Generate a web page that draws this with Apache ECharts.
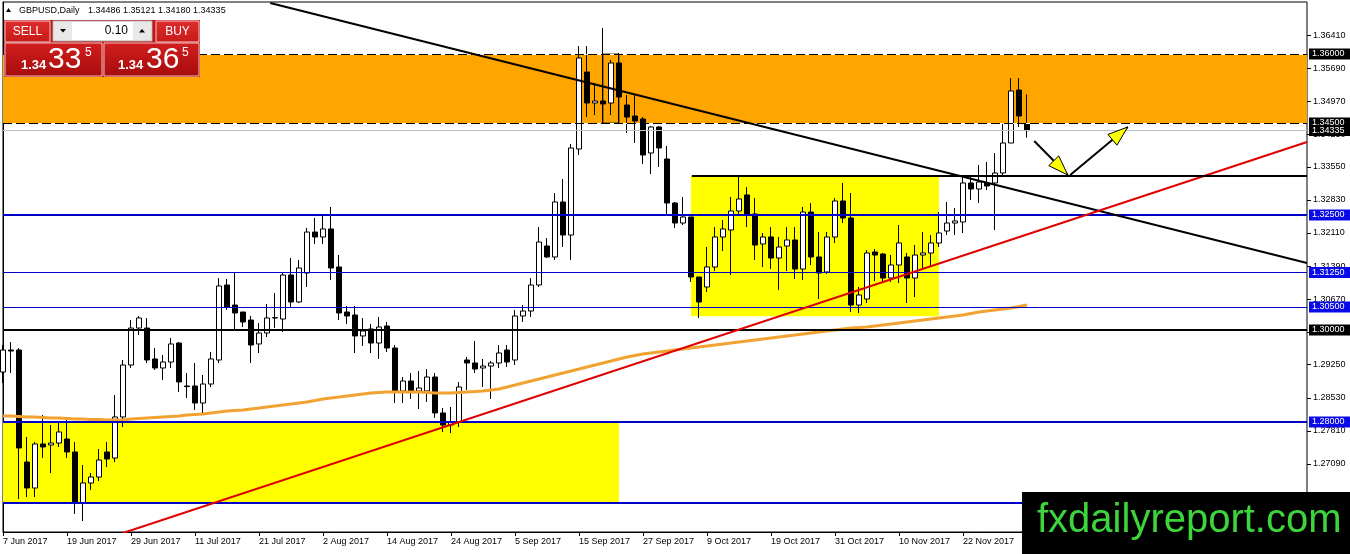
<!DOCTYPE html>
<html><head><meta charset="utf-8">
<script src="https://cdn.jsdelivr.net/npm/echarts@6/dist/echarts.min.js"></script>
<style>html,body{margin:0;padding:0;background:#fff}#c{width:1350px;height:554px}</style>
</head><body><div id="c"></div>
<script>
// ---------- data ----------
const symbolTitle = 'GBPUSD,Daily';
const titleOHLC = ['1.34486', '1.35121', '1.34180', '1.34335'];
const firstDate = [2017, 5, 7];        // 7 Jun 2017
const slotCount = 164;                 // visible bar slots incl. empty right shift
const monthNames = ['Jan','Feb','Mar','Apr','May','Jun','Jul','Aug','Sep','Oct','Nov','Dec'];
// [open, close, low, high]
const candles = [
[1.29087,1.29565,1.28848,1.29674],[1.29565,1.29543,1.29065,1.29739],[1.29565,1.27435,1.26326,1.29609],[1.27130,1.26565,1.26370,1.27674],
[1.26565,1.27522,1.26370,1.27565],[1.27522,1.27457,1.27217,1.28152],[1.27500,1.27543,1.26891,1.27935],[1.27543,1.27783,1.27457,1.28000],
[1.27630,1.27348,1.27217,1.28109],[1.27348,1.26239,1.26000,1.27565],[1.26239,1.26674,1.25848,1.27065],[1.26674,1.26804,1.26522,1.26891],
[1.26804,1.27174,1.26717,1.27413],[1.27348,1.27196,1.27022,1.27565],[1.27217,1.28109,1.27130,1.28587],[1.28109,1.29239,1.27891,1.29348],
[1.29239,1.30043,1.29174,1.30217],[1.30043,1.30261,1.29891,1.30304],[1.30043,1.29348,1.29283,1.30261],[1.29370,1.29174,1.29130,1.29609],
[1.29174,1.29304,1.28913,1.29457],[1.29304,1.29696,1.29174,1.29826],[1.29717,1.28870,1.28652,1.29739],[1.28783,1.28770,1.28522,1.29065],
[1.28783,1.28413,1.28261,1.29283],[1.28413,1.28826,1.28196,1.29022],[1.28826,1.29370,1.28761,1.29522],[1.29348,1.30957,1.29283,1.31130],
[1.30978,1.30500,1.30435,1.31109],[1.30543,1.30370,1.30022,1.31239],[1.30391,1.30174,1.30065,1.30391],[1.30217,1.29674,1.29283,1.30304],
[1.29696,1.29935,1.29500,1.30152],[1.29935,1.30261,1.29848,1.30565],[1.30261,1.30270,1.30043,1.30804],[1.30239,1.31196,1.29957,1.31239],
[1.31196,1.30609,1.30500,1.31565],[1.30609,1.31348,1.30587,1.31522],[1.31239,1.32130,1.30935,1.32217],[1.32130,1.32022,1.31870,1.32435],
[1.32022,1.32196,1.31870,1.32500],[1.32196,1.31348,1.31087,1.32674],[1.31370,1.30370,1.30217,1.31630],[1.30391,1.30304,1.30130,1.30522],
[1.30326,1.29870,1.29500,1.30522],[1.29870,1.29978,1.29652,1.30261],[1.30022,1.29717,1.29500,1.30130],[1.29717,1.30065,1.29370,1.30283],
[1.30087,1.29609,1.29522,1.30174],[1.29609,1.28674,1.28413,1.29674],[1.28674,1.28891,1.28413,1.28978],[1.28891,1.28674,1.28500,1.29065],
[1.28674,1.28739,1.28283,1.29109],[1.28674,1.28978,1.28435,1.29152],[1.28978,1.28196,1.28087,1.29065],[1.28196,1.27935,1.27783,1.28304],
[1.27935,1.28000,1.27761,1.28326],[1.28000,1.28761,1.27891,1.28870],[1.29348,1.29283,1.28696,1.29413],[1.29283,1.29152,1.29065,1.29761],
[1.29174,1.29217,1.28761,1.29370],[1.29217,1.29283,1.28500,1.29326],[1.29283,1.29500,1.29174,1.29674],[1.29565,1.29304,1.29196,1.29674],
[1.29348,1.30304,1.29239,1.30435],[1.30304,1.30413,1.30174,1.30543],[1.30413,1.30978,1.30283,1.31130],[1.30978,1.31913,1.30935,1.32239],
[1.31826,1.31587,1.31565,1.32000],[1.31587,1.32783,1.31522,1.32978],[1.32783,1.32065,1.31804,1.33283],[1.32065,1.33957,1.31522,1.34043],
[1.33935,1.35913,1.33804,1.36174],[1.35609,1.34935,1.34630,1.36174],[1.34935,1.34978,1.34674,1.35370],[1.34978,1.34913,1.34500,1.36565],
[1.34935,1.35804,1.34674,1.35870],[1.35804,1.35065,1.34500,1.36022],[1.34891,1.34630,1.34283,1.35109],[1.34652,1.34543,1.34065,1.35109],
[1.34587,1.33804,1.33609,1.34630],[1.33848,1.34413,1.33391,1.34435],[1.34413,1.33957,1.33543,1.34435],[1.33717,1.32761,1.32522,1.34000],
[1.32761,1.32326,1.32217,1.32783],[1.32326,1.32457,1.32283,1.32891],[1.32457,1.31152,1.31043,1.32457],[1.31152,1.30609,1.30261,1.31152],
[1.30935,1.31370,1.30826,1.31804],[1.31370,1.32022,1.31283,1.32239],[1.32022,1.32196,1.31717,1.32391],[1.32174,1.32587,1.31196,1.32891],
[1.32587,1.32848,1.32500,1.33370],[1.32935,1.32522,1.32239,1.33109],[1.32522,1.31848,1.31522,1.32870],[1.31870,1.32022,1.31370,1.32109],
[1.32022,1.31565,1.31326,1.32239],[1.31565,1.31804,1.30870,1.32022],[1.31826,1.31957,1.31283,1.32239],[1.31957,1.31326,1.31109,1.32239],
[1.31326,1.32565,1.31087,1.32674],[1.32565,1.31587,1.31413,1.32761],[1.31587,1.31239,1.30674,1.32130],[1.31261,1.32022,1.31217,1.32130],
[1.32022,1.32804,1.31891,1.32870],[1.32804,1.32435,1.32326,1.33196],[1.32435,1.30543,1.30391,1.32978],[1.30543,1.30761,1.30370,1.30935],
[1.30674,1.31674,1.30587,1.31739],[1.31696,1.31630,1.31065,1.31761],[1.31652,1.31130,1.31043,1.31674],[1.31130,1.31413,1.31043,1.31630],
[1.31413,1.31891,1.31022,1.32283],[1.31587,1.31130,1.30587,1.31674],[1.31130,1.31630,1.30717,1.31848],[1.31630,1.31674,1.31348,1.32130],
[1.31674,1.31891,1.31370,1.32065],[1.31891,1.32109,1.31804,1.32565],[1.32152,1.32326,1.32065,1.32783],[1.32326,1.32370,1.32065,1.32652],
[1.32348,1.33196,1.32109,1.33326],[1.33196,1.33065,1.32826,1.33326],[1.33065,1.33217,1.32761,1.33587],[1.33196,1.33130,1.33043,1.33652],
[1.33196,1.33413,1.32174,1.33848],[1.33413,1.34065,1.33370,1.34478],[1.34065,1.35196,1.34065,1.35478],[1.35217,1.34652,1.34413,1.35478],
[1.34486,1.34335,1.34180,1.35121]
];
const movingAverage = [
1.28130,1.28130,1.28120,1.28109,1.28109,1.28098,1.28087,1.28087,1.28076,1.28065,
1.28065,1.28054,1.28054,1.28043,1.28043,1.28043,1.28065,1.28076,1.28087,1.28098,
1.28109,1.28120,1.28130,1.28152,1.28163,1.28174,1.28196,1.28217,1.28239,1.28250,
1.28261,1.28283,1.28304,1.28326,1.28348,1.28370,1.28391,1.28413,1.28435,1.28467,
1.28500,1.28522,1.28543,1.28565,1.28587,1.28609,1.28630,1.28641,1.28652,1.28652,
1.28652,1.28652,1.28652,1.28641,1.28630,1.28630,1.28630,1.28641,1.28652,1.28663,
1.28674,1.28696,1.28717,1.28761,1.28804,1.28848,1.28891,1.28935,1.28978,1.29022,
1.29065,1.29109,1.29152,1.29196,1.29239,1.29283,1.29326,1.29370,1.29413,1.29446,
1.29478,1.29500,1.29522,1.29543,1.29565,1.29587,1.29609,1.29630,1.29652,1.29674,
1.29696,1.29717,1.29739,1.29761,1.29783,1.29804,1.29826,1.29848,1.29870,1.29891,
1.29913,1.29935,1.29957,1.29978,1.30000,1.30022,1.30043,1.30054,1.30065,1.30087,
1.30109,1.30130,1.30152,1.30174,1.30196,1.30217,1.30239,1.30261,1.30283,1.30304,
1.30326,1.30359,1.30391,1.30413,1.30435,1.30457,1.30478,1.30511,1.30543
];
const priceTicks = [1.3641,1.3569,1.3497,1.3425,1.3355,1.3283,1.3211,1.3139,1.3067,1.2995,1.2925,1.2853,1.2781,1.2709,1.2637];
const priceRange = [1.256087, 1.371304];
// zones: [fromBar, toBar, top, bottom]
const orangeZone = [0, 163, 1.3600, 1.3450];
const markedBox = [75, 77, 1.3600, 1.3450];
const yellowUpperZone = [86, 117, 1.3335, 1.3030];
const yellowLowerZone = [0, 77, 1.2800, 1.2625];
const dashedLevels = [1.3600, 1.3450];
const blueLevels = [1.3250, 1.3125, 1.3050, 1.2800, 1.2625];
const blueLevelWidths = [2, 1, 1, 2, 2];
const blueLevelLabels = ['1.32500', '1.31250', '1.30500', '1.28000', ''];
const blackLevel = 1.3000;
const currentPrice = 1.34335;
const downTrend = [[33.4, 1.37109], [163, 1.31457]];
const upTrend = [[15, 1.25587], [163, 1.34087]];
const neckLine = [[86.1, 1.3335], [163, 1.3335]];
const arrowDown = [[128.9, 1.34109], [133.1, 1.33370]];
const arrowUp = [[133.4, 1.33370], [140.6, 1.34413]];

// ---------- categories (trading days) ----------
const categories = [];
{
  const d = new Date(Date.UTC(firstDate[0], firstDate[1], firstDate[2]));
  while (categories.length < slotCount) {
    const wd = d.getUTCDay();
    if (wd !== 0 && wd !== 6) categories.push(d.getUTCDate() + ' ' + monthNames[d.getUTCMonth()] + ' ' + d.getUTCFullYear());
    d.setUTCDate(d.getUTCDate() + 1);
  }
}

const FONT = '"Liberation Sans", Arial, sans-serif';
const chart = echarts.init(document.getElementById('c'), null, {renderer: 'canvas'});

function boxLabel(text, bg) {
  return {show: !!text, position: 'end', formatter: text, distance: 2, color: '#fff', backgroundColor: bg,
    fontSize: 9, fontFamily: FONT, padding: [1, 7, 1, 3], lineHeight: 9};
}
const levelLines = [];
dashedLevels.forEach(v => {
  levelLines.push({yAxis: v, lineStyle: {color: '#fff', width: 1, type: 'solid'}, label: {show: false}});
});
dashedLevels.forEach(v => {
  levelLines.push({yAxis: v, lineStyle: {color: '#000', width: 1, type: [9, 4]}, label: boxLabel(v.toFixed(5), '#000')});
});
levelLines.push({yAxis: currentPrice, lineStyle: {color: '#c0c0c0', width: 1, type: 'solid'}, label: boxLabel(currentPrice.toFixed(5), '#000')});
blueLevels.forEach((v, i) => {
  levelLines.push({yAxis: v, lineStyle: {color: '#0000c8', width: blueLevelWidths[i], type: 'solid'}, label: boxLabel(blueLevelLabels[i], '#0a0ae6')});
});
levelLines.push({yAxis: blackLevel, lineStyle: {color: '#000', width: 2, type: 'solid'}, label: boxLabel(blackLevel.toFixed(5), '#000')});

function zone(z, fill, border) {
  return [{coord: [z[0], z[2]], itemStyle: {color: fill, borderColor: border || 'transparent', borderWidth: border ? 1 : 0}},
          {coord: [z[1], z[3]]}];
}

chart.setOption({
  animation: false,
  backgroundColor: '#fff',
  grid: {left: 3, right: 43, top: 2, bottom: 22, show: true, borderColor: '#000', borderWidth: 1, outerBoundsMode: 'none'},
  xAxis: [
    {type: 'category', data: categories, boundaryGap: false, position: 'bottom',
     axisLine: {show: true, lineStyle: {color: '#000', width: 1}},
     axisTick: {show: true, interval: 7, length: 4, lineStyle: {color: '#000'}},
     axisLabel: {interval: 7, align: 'left', fontSize: 9, fontFamily: FONT, color: '#000', margin: 5},
     splitLine: {show: false}},
    {type: 'value', min: 0, max: slotCount - 1, show: false}
  ],
  yAxis: {type: 'value', position: 'right', min: priceRange[0], max: priceRange[1], scale: true,
    axisLine: {show: true, lineStyle: {color: '#000', width: 1}},
    axisTick: {show: false},
    axisLabel: {customValues: priceTicks, formatter: v => v.toFixed(5), fontSize: 9, fontFamily: FONT, color: '#000', margin: 6},
    splitLine: {show: false}},
  series: [
    {type: 'line', name: 'zones', xAxisIndex: 1, data: [[0, 1.3]], showSymbol: false, lineStyle: {opacity: 0}, z: 1, silent: true,
     markArea: {silent: true, data: [
       zone(orangeZone, '#ffa500'),
       zone(yellowLowerZone, '#ffff00'),
       zone(yellowUpperZone, '#ffff00'),
       zone(markedBox, 'rgba(0,0,0,0)', '#333')
     ]}},
    {type: 'candlestick', name: 'GBPUSD', xAxisIndex: 0, data: candles, barWidth: 5, clip: true, z: 3,
     itemStyle: {color: '#fff', color0: '#000', borderColor: '#000', borderColor0: '#000', borderWidth: 1}},
    {type: 'line', name: 'MA', xAxisIndex: 0, data: movingAverage, showSymbol: false, z: 4,
     lineStyle: {color: '#f2a230', width: 3}},
    {type: 'line', name: 'levels', xAxisIndex: 1, data: [[0, 1.3]], showSymbol: false, lineStyle: {opacity: 0}, z: 5, silent: true,
     markLine: {silent: true, precision: 5, symbol: ['none', 'none'], data: levelLines}},
    {type: 'line', name: 'down', xAxisIndex: 1, data: downTrend, showSymbol: false, clip: true, z: 6, lineStyle: {color: '#000', width: 2}},
    {type: 'line', name: 'up', xAxisIndex: 1, data: upTrend, showSymbol: false, clip: true, z: 6, lineStyle: {color: '#e00000', width: 2}},
    {type: 'line', name: 'neck', xAxisIndex: 1, data: neckLine, showSymbol: false, clip: true, z: 6, lineStyle: {color: '#000', width: 2}}
  ]
});

// ---------- graphics ----------
function px(p) { return chart.convertToPixel({xAxisIndex: 1, yAxisIndex: 0}, p); }
function arrow(seg) {
  const a = px(seg[0]), b = px(seg[1]);
  const dx = b[0] - a[0], dy = b[1] - a[1], len = Math.hypot(dx, dy);
  const ux = dx / len, uy = dy / len, nx = -uy, ny = ux;
  const L = 20, W = 7;
  const bx = b[0] - ux * L, by = b[1] - uy * L;
  return [
    {type: 'line', z: 50, shape: {x1: a[0], y1: a[1], x2: b[0], y2: b[1]}, style: {stroke: '#000', lineWidth: 2}},
    {type: 'polygon', z: 51, shape: {points: [[b[0], b[1]], [bx + nx * W, by + ny * W], [bx - nx * W, by - ny * W]]},
     style: {fill: '#ffff00', stroke: '#000', lineWidth: 1}}
  ];
}
function grad(c1, c2) {
  return new echarts.graphic.LinearGradient(0, 0, 0, 1, [{offset: 0, color: c1}, {offset: 1, color: c2}]);
}
function txt(text, x, y, font, fill, align) {
  return {type: 'text', z: 102, style: {text, x, y, font, fill: fill || '#fff', align: align || 'left', verticalAlign: 'middle'}};
}
const g = [];
// right axis ticks
const axisX = px([slotCount - 1, priceTicks[0]])[0];
priceTicks.forEach(v => {
  const y = Math.round(px([0, v])[1]) + 0.5;
  g.push({type: 'line', z: 10, shape: {x1: axisX, y1: y, x2: axisX + 4, y2: y}, style: {stroke: '#000', lineWidth: 1}});
});
g.push(...arrow(arrowDown), ...arrow(arrowUp));
// title
g.push({type: 'polygon', z: 100, shape: {points: [[6, 12], [11, 12], [8.5, 8]]}, style: {fill: '#000'}});
g.push(txt(symbolTitle, 19, 11, '9px ' + FONT, '#000'));
g.push(txt(titleOHLC.join(' '), 88, 11, '9px ' + FONT, '#000'));
// trade panel
g.push({type: 'rect', z: 100, shape: {x: 4, y: 20, width: 196, height: 57}, style: {fill: '#c21616'}});
g.push({type: 'rect', z: 101, shape: {x: 5, y: 21, width: 45, height: 21}, style: {fill: grad('#de2c2c', '#c81a1a'), stroke: '#f2c8c8', lineWidth: 1}});
g.push(txt('SELL', 27.5, 31.5, '12px ' + FONT, '#fff', 'center'));
g.push({type: 'rect', z: 101, shape: {x: 156, y: 21, width: 43, height: 21}, style: {fill: grad('#de2c2c', '#c81a1a'), stroke: '#f2c8c8', lineWidth: 1}});
g.push(txt('BUY', 177.5, 31.5, '12px ' + FONT, '#fff', 'center'));
g.push({type: 'rect', z: 101, shape: {x: 53, y: 21, width: 99, height: 20}, style: {fill: '#fff', stroke: '#a8a8a8', lineWidth: 1}});
g.push({type: 'rect', z: 101, shape: {x: 54, y: 22, width: 18, height: 18}, style: {fill: '#e8e8e8'}});
g.push({type: 'rect', z: 101, shape: {x: 133, y: 22, width: 18, height: 18}, style: {fill: '#e8e8e8'}});
g.push({type: 'polygon', z: 102, shape: {points: [[60, 29], [66, 29], [63, 32.5]]}, style: {fill: '#000'}});
g.push({type: 'polygon', z: 102, shape: {points: [[139, 32.5], [145, 32.5], [142, 29]]}, style: {fill: '#000'}});
g.push(txt('0.10', 128, 31, '12px ' + FONT, '#000', 'right'));
g.push({type: 'rect', z: 101, shape: {x: 5, y: 43, width: 97, height: 33}, style: {fill: grad('#d21e1e', '#a60c0c'), stroke: '#f0c0c0', lineWidth: 1}});
g.push({type: 'rect', z: 101, shape: {x: 104, y: 43, width: 95, height: 33}, style: {fill: grad('#d21e1e', '#a60c0c'), stroke: '#f0c0c0', lineWidth: 1}});
g.push(txt('1.34', 21, 65, 'bold 13px ' + FONT));
g.push(txt('33', 48, 60, '30px ' + FONT));
g.push(txt('5', 85, 53, '12px ' + FONT));
g.push(txt('1.34', 118, 65, 'bold 13px ' + FONT));
g.push(txt('36', 146, 60, '30px ' + FONT));
g.push(txt('5', 182, 53, '12px ' + FONT));
// watermark
g.push({type: 'rect', z: 120, shape: {x: 1022, y: 492, width: 328, height: 62}, style: {fill: '#000'}});
g.push({type: 'text', z: 121, style: {text: 'fxdailyreport.com', x: 1037, y: 521, font: '40px ' + FONT, fill: '#3cd63c', align: 'left', verticalAlign: 'middle'}});

chart.setOption({graphic: {elements: g}});
</script>
</body></html>
